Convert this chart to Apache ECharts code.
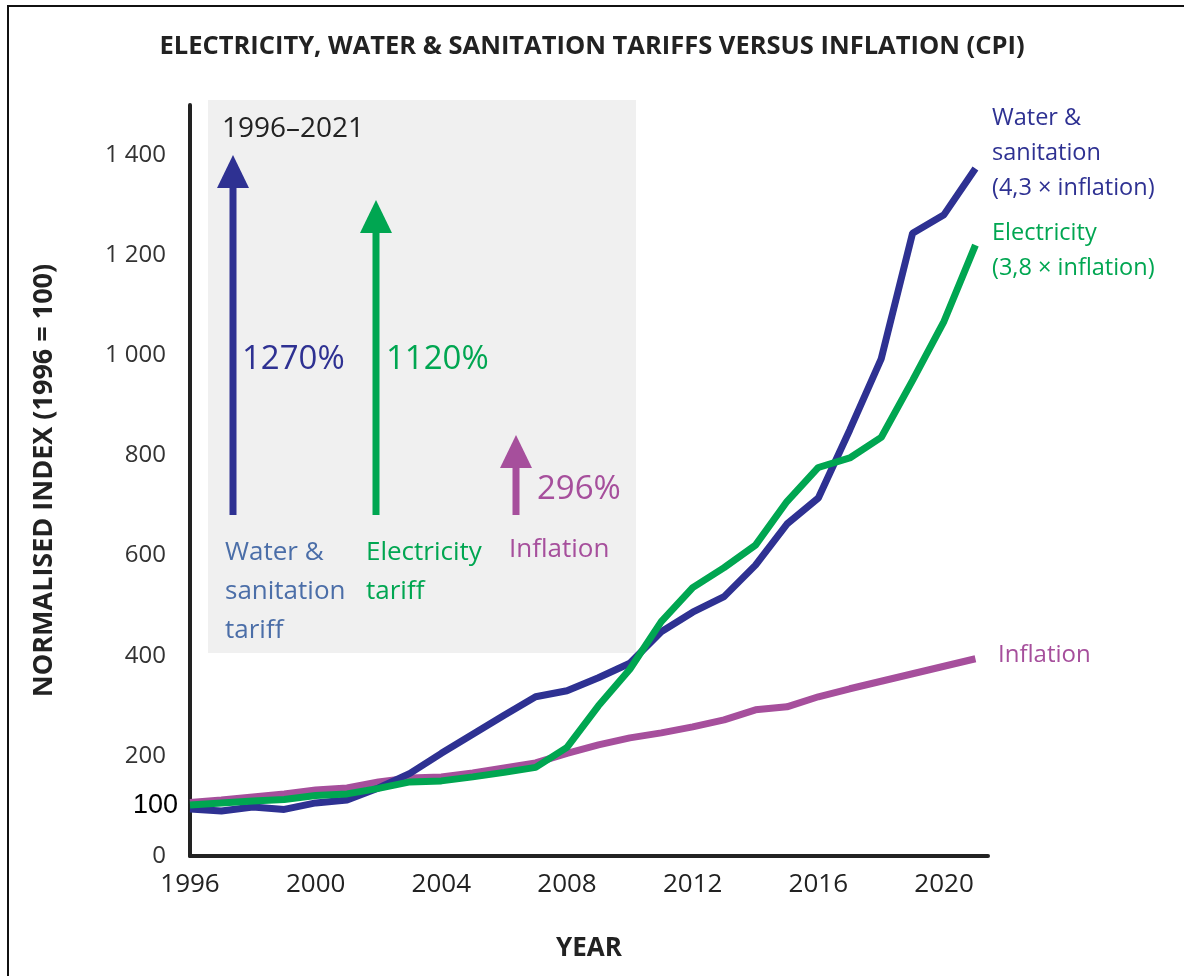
<!DOCTYPE html>
<html>
<head>
<meta charset="utf-8">
<script src="https://cdn.jsdelivr.net/npm/echarts@6/dist/echarts.min.js"></script>
<style>
  html, body { margin: 0; padding: 0; background: #fff; }
  #chart { width: 1184px; height: 976px; }
</style>
</head>
<body>
<div id="chart"></div>
<script>
// years 1996..2021
const years = [1996, 1997, 1998, 1999, 2000, 2001, 2002, 2003, 2004, 2005, 2006, 2007, 2008,
  2009, 2010, 2011, 2012, 2013, 2014, 2015, 2016, 2017, 2018, 2019, 2020, 2021];
const water = [94, 90, 98, 93, 106, 112, 136, 165, 205, 243, 281, 318, 330,
  356, 385, 448, 487, 518, 581, 663, 715, 851, 993, 1244, 1281, 1373];
const electricity = [102, 106, 110, 113, 121, 124, 135, 148, 150, 158, 167, 177, 217,
  300, 373, 468, 536, 576, 621, 708, 776, 795, 836, 950, 1068, 1220];
const inflation = [107, 112, 118, 124, 132, 136, 148, 156, 158, 166, 176, 186, 205,
  222, 236, 246, 258, 272, 292, 298, 318, 334, 349, 364, 379, 394];
const yTicks = [0, 200, 400, 600, 800, 1000, 1200, 1400];

const BLUE = "#2E3192", GREEN = "#00A651", PINK = "#A64F9C", STEEL = "#4B6EA8";
const condensed = "'Liberation Sans Narrow', 'Open Sans', sans-serif";
const body = "'Open Sans', sans-serif";

function pairs(vals) {
  return years.map((y, i) => [y, vals[i]]);
}
function spaced(v) {
  return String(v).replace(/\B(?=(\d{3})+(?!\d))/g, " ");
}
function arrow(x, yTop, yBottom, color) {
  return [
    { type: "rect", shape: { x: x - 3.5, y: yTop + 28, width: 7, height: yBottom - yTop - 28 }, style: { fill: color }, z: 1 },
    { type: "polygon", shape: { points: [[x, yTop], [x - 16, yTop + 33], [x + 16, yTop + 33]] }, style: { fill: color }, z: 1 },
  ];
}
function txt(x, y, text, color, size, lh) {
  return {
    type: "text", x: x, y: y, z: 5,
    style: { text: text, fill: color, font: size + "px " + body, lineHeight: lh || size * 1.3 },
  };
}

let option = {
  backgroundColor: "#fff",
  animation: false,
  title: {
    text: "ELECTRICITY, WATER & SANITATION TARIFFS VERSUS INFLATION (CPI)",
    left: "center",
    top: 29,
    textStyle: { fontFamily: condensed, fontWeight: "bold", fontSize: 25.5, color: "#222" },
  },
  grid: { left: 190, right: 196, top: 105, bottom: 120 },
  xAxis: {
    type: "value",
    min: 1996,
    max: 2021.4,
    interval: 4,
    name: "YEAR",
    nameLocation: "middle",
    nameGap: 80,
    nameTextStyle: { fontFamily: condensed, fontWeight: "bold", fontSize: 26, color: "#222" },
    axisLine: { lineStyle: { color: "#222", width: 4 } },
    axisTick: { show: false },
    splitLine: { show: false },
    axisLabel: {
      margin: 16,
      fontFamily: condensed,
      fontSize: 26,
      color: "#222",
      showMaxLabel: false,
      formatter: (v) => (v % 4 === 0 ? String(v) : ""),
    },
  },
  yAxis: [
    {
      type: "value",
      min: 0,
      max: 1500,
      interval: 100,
      name: "NORMALISED INDEX (1996 = 100)",
      nameLocation: "middle",
      nameGap: 132,
      nameTextStyle: { fontFamily: condensed, fontWeight: "bold", fontSize: 27, color: "#222" },
      axisLine: { show: true, lineStyle: { color: "#222", width: 4 } },
      axisTick: { show: false },
      splitLine: { show: false },
      axisLabel: {
        margin: 24,
        fontFamily: body,
        fontSize: 24,
        color: "#333",
        formatter: (v) => (yTicks.indexOf(v) >= 0 ? spaced(v) : ""),
      },
    },
    {
      type: "value",
      position: "left",
      min: 0,
      max: 1500,
      interval: 100,
      axisLine: { show: false },
      axisTick: { show: false },
      splitLine: { show: false },
      axisLabel: {
        margin: 12,
        fontFamily: "'Liberation Sans', Arial, sans-serif",
        fontSize: 27,
        color: "#000",
        formatter: (v) => (v === 100 ? "100" : ""),
      },
    },
  ],
  series: [
    { name: "Inflation", type: "line", data: pairs(inflation), symbol: "none", lineStyle: { color: PINK, width: 7, cap: "butt" }, z: 3 },
    { name: "Water & sanitation", type: "line", data: pairs(water), symbol: "none", lineStyle: { color: BLUE, width: 7, cap: "butt" }, z: 4 },
    { name: "Electricity", type: "line", data: pairs(electricity), symbol: "none", lineStyle: { color: GREEN, width: 7, cap: "butt" }, z: 5 },
  ],
  graphic: [
    { type: "rect", shape: { x: 8, y: 6, width: 1200, height: 1000 }, style: { fill: null, stroke: "#111", lineWidth: 2 }, z: 10 },
    { type: "rect", shape: { x: 208, y: 100, width: 428, height: 553 }, style: { fill: "#F0F0F0" }, z: 0 },
    txt(222, 111, "1996–2021", "#222", 28),
    ...arrow(233, 155, 515, BLUE),
    ...arrow(376, 200, 515, GREEN),
    ...arrow(516, 435, 515, PINK),
    txt(242, 338, "1270%", BLUE, 33),
    txt(386, 338, "1120%", GREEN, 33),
    txt(537, 468, "296%", PINK, 33),
    txt(225, 533, "Water &\nsanitation\ntariff", STEEL, 26, 39),
    txt(366, 533, "Electricity\ntariff", GREEN, 26, 39),
    txt(509, 533, "Inflation", PINK, 26),
    txt(992, 101, "Water &\nsanitation\n(4,3 × inflation)", BLUE, 23.5, 35),
    txt(992, 216, "Electricity\n(3,8 × inflation)", GREEN, 23.5, 35),
    txt(998, 640, "Inflation", PINK, 24),
  ],
};

let myChart = echarts.init(document.getElementById("chart"));
myChart.setOption(option, true);
window.onresize = myChart.resize;
</script>
</body>
</html>
